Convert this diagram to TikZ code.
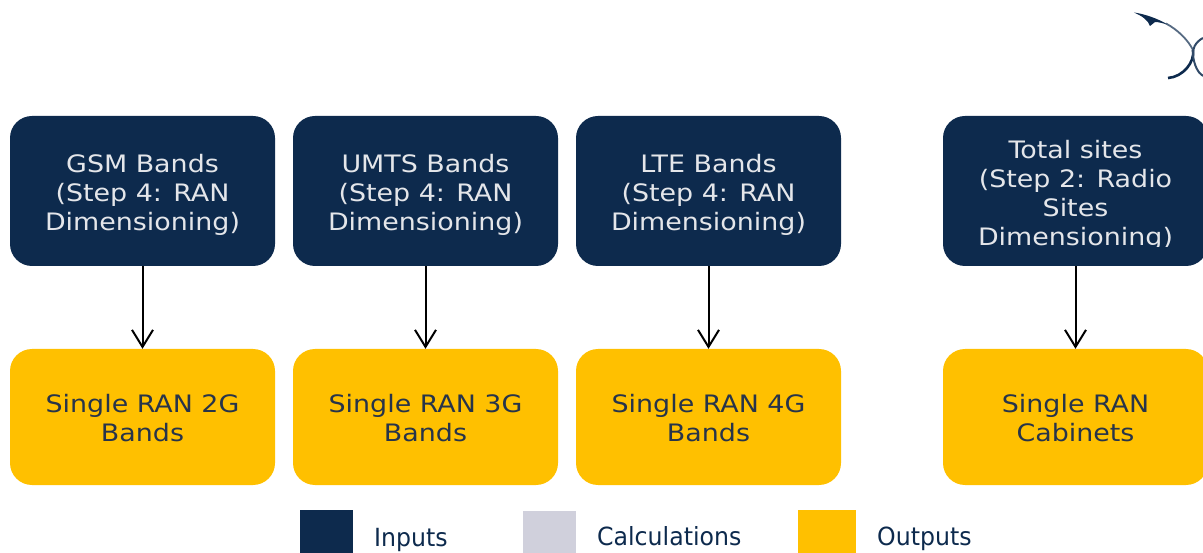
\documentclass[tikz,border=0pt]{standalone}
\usepackage{fontspec}
\usepackage{xcolor}
\usetikzlibrary{arrows.meta}
\setmainfont{DejaVu Sans}
\newfontfamily\boxfont[FakeStretch=1.12]{DejaVu Sans}
\newfontfamily\legendfont[FakeStretch=0.945]{DejaVu Sans}
\definecolor{navy}{HTML}{0D2A4D}
\definecolor{amber}{HTML}{FFC000}
\definecolor{calcgrey}{HTML}{D0D0DC}
\definecolor{inputtext}{HTML}{E4E6EA}
\definecolor{outputtext}{HTML}{27344A}
\tikzset{
  band/.style={rectangle, rounded corners=22pt, minimum width=265pt, inner sep=0pt, align=center,
    font=\boxfont\fontsize{24}{29}\selectfont},
  inbox/.style={band, fill=navy, text=inputtext, minimum height=150pt,
    execute at begin node={\rule{0pt}{84pt}}},
  outbox/.style={band, fill=amber, text=outputtext, minimum height=136pt,
    execute at begin node={\rule{0pt}{49pt}}},
  flow/.style={draw=black, line width=2pt, -{Straight Barb[length=17pt,width=21pt,line width=2pt]}},
  legendtext/.style={anchor=base west, inner sep=0pt, text=navy, font=\legendfont\fontsize{25}{29}\selectfont}
}
\begin{document}
\begin{tikzpicture}[x=1pt,y=-1pt]
    \useasboundingbox (0,0) rectangle (1203,553);
    \clip (0,0) rectangle (1203,553);
    % inputs
    \node[inbox] (gsm) at (142.5,191) {GSM Bands\\(Step 4: RAN\\Dimensioning)};
    \node[inbox] (umts) at (425.5,191) {UMTS Bands\\(Step 4: RAN\\Dimensioning)};
    \node[inbox] (lte) at (708.5,191) {LTE Bands\\(Step 4: RAN\\Dimensioning)};
    \node[inbox, execute at begin node={}] (sites) at (1075.5,191) {};
    \begin{scope}
        \clip (943,116) rectangle (1208,247);
        \node[band, text=inputtext, anchor=north] (sitestext) at (1075.5,140) {Total sites\\(Step 2: Radio\\Sites\\Dimensioning)};
    \end{scope}
    % outputs
    \node[outbox] (ran2g) at (142.5,417) {Single RAN 2G\\Bands};
    \node[outbox] (ran3g) at (425.5,417) {Single RAN 3G\\Bands};
    \node[outbox] (ran4g) at (708.5,417) {Single RAN 4G\\Bands};
    \node[outbox] (cabinets) at (1075.5,417) {Single RAN\\Cabinets};
    \draw[flow] (gsm) -- (ran2g);
    \draw[flow] (umts) -- (ran3g);
    \draw[flow] (lte) -- (ran4g);
    \draw[flow] (sites) -- (cabinets);
    % legend
    \fill[navy] (300,510) rectangle (353,553);
    \node[legendtext] (inputs) at (374,546) {Inputs};
    \fill[calcgrey] (523,511) rectangle (576,553);
    \node[legendtext] (calculations) at (597,545) {Calculations};
    \fill[amber] (798,510) rectangle (856,553);
    \node[legendtext] (outputs) at (877,545) {Outputs};
    % logo
    \fill[navy] (1134,12.5) .. controls (1142,13.5) and (1158,18) .. (1170,26)
        .. controls (1164,23) and (1158,22) .. (1155,22) -- (1150,26)
        .. controls (1148,20) and (1142,16) .. (1134,12.5) -- cycle;
    \draw[navy!70, line width=1.8pt] (1166,23.5) .. controls (1178,30) and (1188,40) .. (1193,50);
    \draw[navy, line width=2.6pt] (1193,50) .. controls (1195,62) and (1183,77) .. (1168,78);
    \draw[navy!85, line width=2pt] (1203,38) .. controls (1195,42) and (1192,50) .. (1193,55)
        .. controls (1194,65) and (1198,73) .. (1203,76);
\end{tikzpicture}
\end{document}
